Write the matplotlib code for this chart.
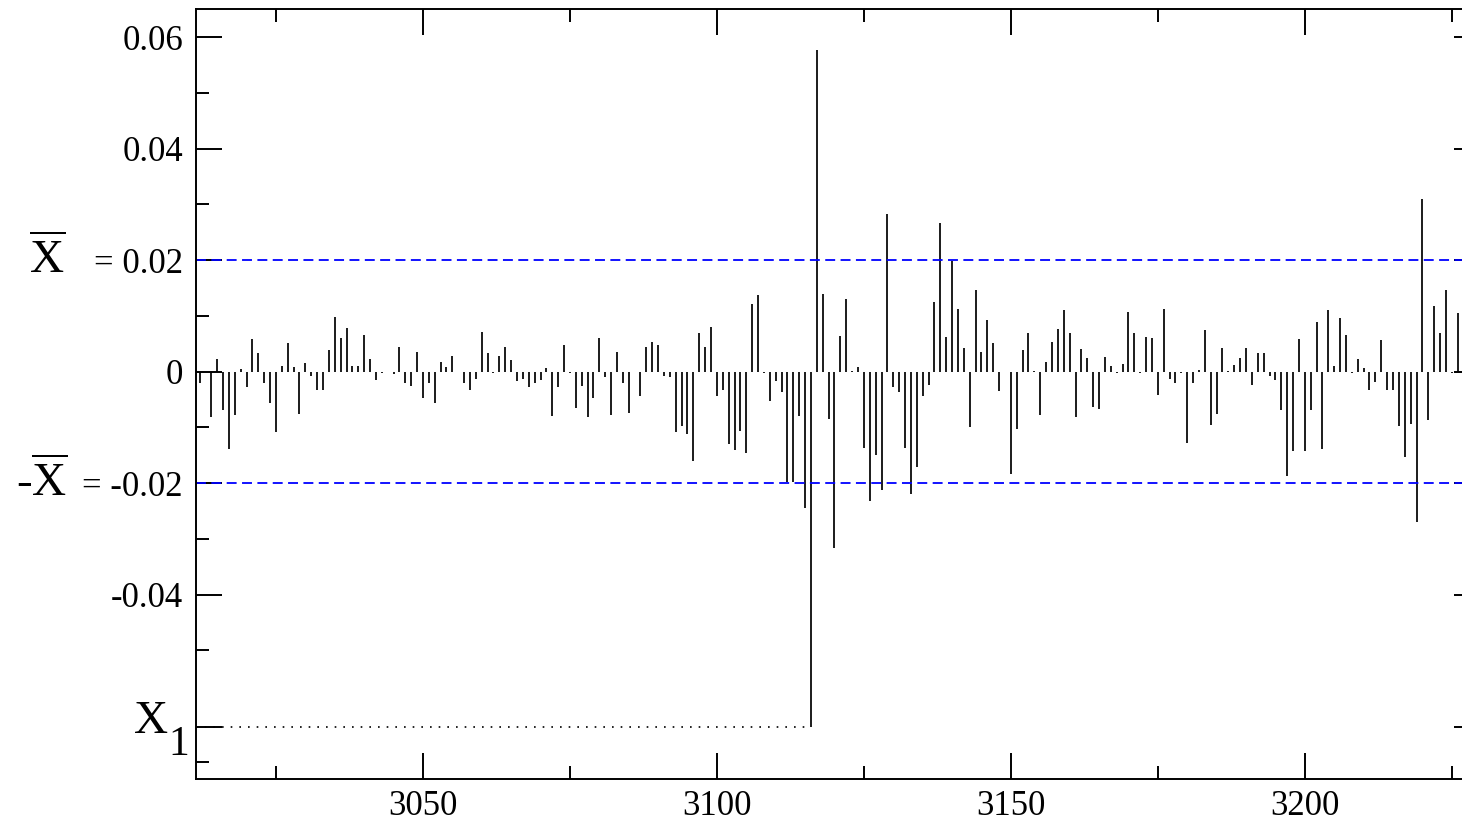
import numpy as np
import matplotlib
matplotlib.use("Agg")
import matplotlib.pyplot as plt
import matplotlib.transforms as mtransforms

plt.rcParams['font.family'] = ['Liberation Serif', 'DejaVu Serif']
plt.rcParams['mathtext.fontset'] = 'custom'
plt.rcParams['mathtext.rm'] = 'Liberation Serif'
plt.rcParams['mathtext.it'] = 'Liberation Serif:italic'

# time index of the first value
t_start = 3012

# values, one per time step (3012 .. 3226)
returns = [
    -0.0020, 0.0000, -0.0082, 0.0023, -0.0069, -0.0139, -0.0078, 0.0004,
    -0.0027, 0.0059, 0.0034, -0.0020, -0.0057, -0.0109, 0.0010, 0.0052,
    0.0008, -0.0075, 0.0016, -0.0007, -0.0032, -0.0033, 0.0039, 0.0098,
    0.0061, 0.0079, 0.0010, 0.0011, 0.0065, 0.0022, -0.0014, -0.0002,
    -0.0001, -0.0004, 0.0045, -0.0021, -0.0026, 0.0035, -0.0048, -0.0021,
    -0.0057, 0.0018, 0.0009, 0.0029, -0.0001, -0.0021, -0.0033, -0.0013,
    0.0072, 0.0033, -0.0002, 0.0029, 0.0044, 0.0021, -0.0017, -0.0013,
    -0.0027, -0.0021, -0.0015, 0.0007, -0.0079, -0.0027, 0.0048, -0.0003,
    -0.0066, -0.0026, -0.0081, -0.0047, 0.0061, -0.0010, -0.0077, 0.0036,
    -0.0021, -0.0074, -0.0001, -0.0044, 0.0044, 0.0054, 0.0047, -0.0008,
    -0.0009, -0.0109, -0.0097, -0.0111, -0.0161, 0.0070, 0.0044, 0.0081,
    -0.0044, -0.0033, -0.0129, -0.0140, -0.0107, -0.0145, 0.0121, 0.0137,
    -0.0002, -0.0053, -0.0017, -0.0036, -0.0198, -0.0198, -0.0079, -0.0245,
    -0.0637, 0.0577, 0.0140, -0.0085, -0.0317, 0.0064, 0.0130, 0.0001,
    0.0008, -0.0136, -0.0232, -0.0150, -0.0213, 0.0283, -0.0027, -0.0036,
    -0.0137, -0.0220, -0.0171, -0.0044, -0.0024, 0.0125, 0.0266, 0.0063,
    0.0199, 0.0113, 0.0042, -0.0099, 0.0146, 0.0036, 0.0092, 0.0052,
    -0.0035, -0.0001, -0.0183, -0.0102, 0.0039, 0.0069, 0.0001, -0.0078,
    0.0018, 0.0054, 0.0076, 0.0110, 0.0069, -0.0082, 0.0040, 0.0024,
    -0.0063, -0.0067, 0.0026, 0.0011, -0.0002, 0.0014, 0.0107, 0.0070,
    -0.0002, 0.0063, 0.0061, -0.0042, 0.0112, -0.0013, -0.0020, -0.0003,
    -0.0128, -0.0021, 0.0003, 0.0075, -0.0096, -0.0075, 0.0042, 0.0002,
    0.0012, 0.0024, 0.0043, -0.0024, 0.0033, 0.0033, -0.0008, -0.0014,
    -0.0069, -0.0187, -0.0143, 0.0058, -0.0143, -0.0068, 0.0090, -0.0139,
    0.0110, 0.0011, 0.0096, 0.0065, -0.0002, 0.0023, 0.0007, -0.0033,
    -0.0018, 0.0056, -0.0033, -0.0033, -0.0097, -0.0153, -0.0094, -0.0270,
    0.0309, -0.0087, 0.0118, 0.0069, 0.0146, -0.0002, 0.0106,
]
times = np.arange(t_start, t_start + len(returns))
values = np.array(returns)

x_bar = 0.02          # threshold X-bar
x_lim = (3011.4, 3229.8)
y_lim = (-0.073, 0.065)

# X1 = the big drop
i_min = int(np.argmin(values))
t_x1 = times[i_min]
x1 = values[i_min]

W, H = 1462, 822
fig = plt.figure(figsize=(W / 100, H / 100), dpi=100)
ax = fig.add_axes([196 / W, 1 - 778.7 / H, 1284 / W, (778.7 - 9.3) / H])

ax.vlines(times, 0, values, color='black', linewidth=1.25)
ax.axhline(x_bar, color='#0000ff', linewidth=1.3, dashes=(5.5, 3.0))
ax.axhline(-x_bar, color='#0000ff', linewidth=1.3, dashes=(5.5, 3.0))
ax.hlines(x1, x_lim[0], t_x1, color='black', linewidth=1.2,
          linestyles=[(0, (1.0, 4.2))])

ax.set_xlim(*x_lim)
ax.set_ylim(*y_lim)

ax.set_xticks([3050, 3100, 3150, 3200])
ax.set_xticks([3025, 3075, 3125, 3175, 3225], minor=True)
ax.set_yticks([0.06, 0.04, x_bar, 0, -x_bar, -0.04, x1])
ax.set_yticklabels(['0.06', '0.04', '= 0.02', '0', '= -0.02', '-0.04', ''])
ax.set_yticks([0.05, 0.03, 0.01, -0.01, -0.03, -0.05, -0.07], minor=True)

ax.tick_params(which='both', direction='in', top=True, right=True, width=1.4,
               labelsize=25, colors='black')
ax.tick_params(which='major', length=18.7)
ax.tick_params(which='minor', length=9.4)
ax.tick_params(axis='y', pad=9.4)
ax.tick_params(axis='x', pad=8)
for s in ax.spines.values():
    s.set_linewidth(1.4)

# special labels on the left
tr = mtransforms.blended_transform_factory(fig.transFigure, ax.transData)
ax.text(47 / W, x_bar, r'$\overline{\mathrm{X}}$', transform=tr, fontsize=34,
        ha='center', va='center', clip_on=False)
ax.text(68 / W, -x_bar, r'-$\overline{\mathrm{X}}$', transform=tr, fontsize=34,
        ha='right', va='center', clip_on=False)
fig.text(168 / W, 1 - 733 / H, 'X', fontsize=34, ha='right', va='baseline')
fig.text(168 / W, 1 - 755 / H, '1', fontsize=30, ha='left', va='baseline')

fig.savefig('out.png', dpi=100)
